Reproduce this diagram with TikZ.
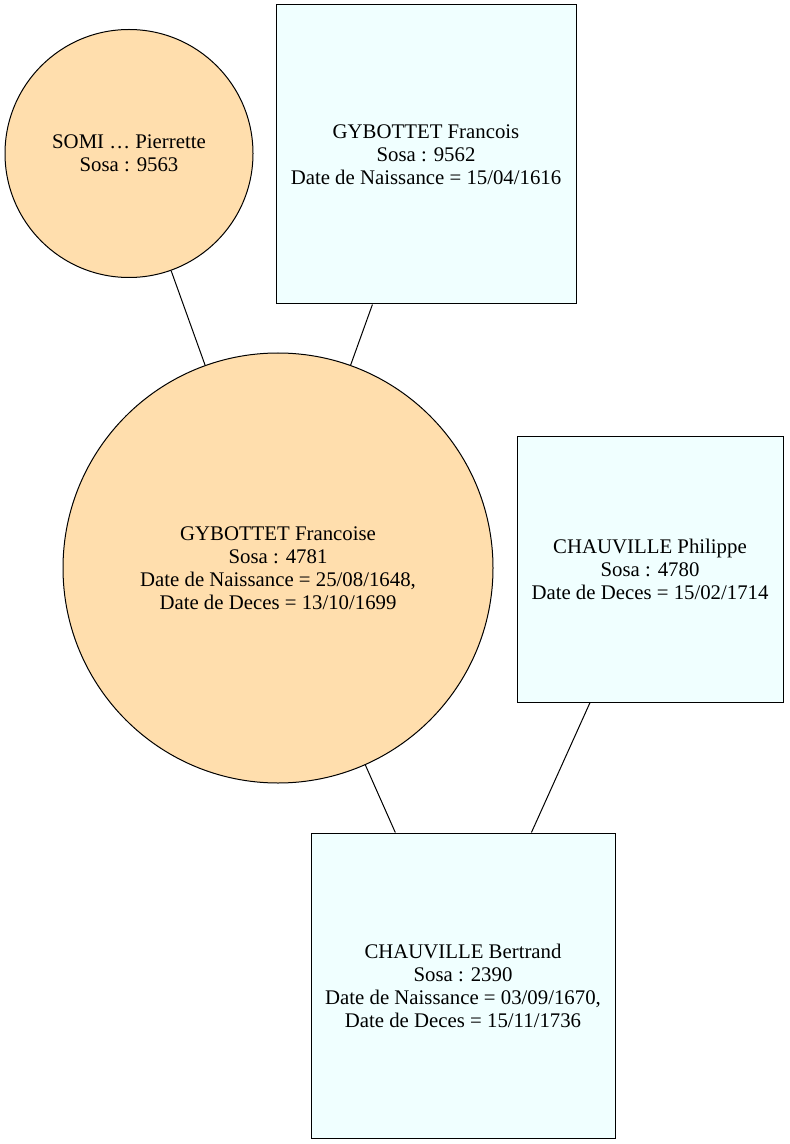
\documentclass[tikz,border=0pt]{standalone}
\usepackage{fontspec}
\setmainfont{Liberation Serif}
\definecolor{personF}{HTML}{FFDEAD}
\definecolor{personM}{HTML}{F0FFFF}
\begin{document}
\begin{tikzpicture}[x=0.75pt,y=-0.75pt,
  every node/.style={font=\fontsize{15.6}{17.25}\selectfont, align=center, inner sep=0pt},
  woman/.style={circle, draw=black, fill=personF, line width=0.75pt},
  man/.style={rectangle, draw=black, fill=personM, line width=0.75pt},
  link/.style={draw=black, line width=0.75pt}]
  \useasboundingbox (0,0) rectangle (789,1144);
  % people
  \node[woman, minimum size=186pt] (somi) at (129,153.5) {SOMI … Pierrette\\Sosa : 9563};
  \node[man, minimum width=225pt, minimum height=224.25pt] (francois) at (426,154.5)
    {GYBOTTET Francois\\Sosa : 9562\\Date de Naissance = 15/04/1616};
  \node[woman, minimum size=322.5pt] (francoise) at (278,568)
    {GYBOTTET Francoise\\Sosa : 4781\\Date de Naissance = 25/08/1648,\\Date de Deces = 13/10/1699};
  \node[man, minimum width=199.5pt, minimum height=199.5pt] (philippe) at (650,569)
    {CHAUVILLE Philippe\\Sosa : 4780\\Date de Deces = 15/02/1714};
  \node[man, minimum width=228pt, minimum height=228.75pt] (bertrand) at (463,985.5)
    {CHAUVILLE Bertrand\\Sosa : 2390\\Date de Naissance = 03/09/1670,\\Date de Deces = 15/11/1736};
  % parent links
  \draw[link] (somi) -- (francoise);
  \draw[link] (francois) -- (francoise);
  \draw[link] (francoise) -- (bertrand);
  \draw[link] (philippe) -- (bertrand);
\end{tikzpicture}
\end{document}
